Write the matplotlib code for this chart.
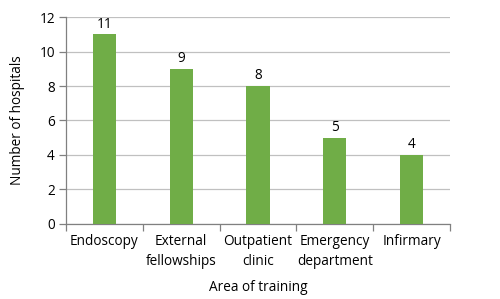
import matplotlib
matplotlib.use("Agg")
import matplotlib.pyplot as plt
import numpy as np

categories = ["Endoscopy", "External\nfellowships", "Outpatient\nclinic", "Emergency\ndepartment", "Infirmary"]
values = [11, 9, 8, 5, 4]
yticks = [0, 2, 4, 6, 8, 10, 12]

plt.rcParams['font.family'] = ['Open Sans', 'DejaVu Sans']
FS = 9.8

fig = plt.figure(figsize=(5.0, 2.99), dpi=100)
ax = fig.add_axes([0.132, 0.251, 0.768, 0.692])

x = np.arange(len(categories))
bars = ax.bar(x, values, width=0.3, color="#70AD47", zorder=3)
for xi, v in zip(x, values):
    ax.text(xi, v + 0.15, str(v), ha="center", va="bottom", fontsize=FS, color="black")

ax.set_xlim(-0.5, len(categories) - 0.5)
ax.set_ylim(0, 12)
ax.set_yticks(yticks)
ax.set_yticklabels([str(t) for t in yticks], fontsize=FS)
ax.grid(axis="y", color="#C0C0C0", linewidth=0.9, zorder=0)

ax.set_xticks(x)
ax.set_xticklabels(categories, fontsize=FS, linespacing=1.45)
ax.set_xticks(np.arange(-0.5, len(categories)), minor=True)
ax.tick_params(axis="x", which="major", length=0, pad=7)
ax.tick_params(axis="x", which="minor", length=5, color="#808080", width=0.9)
ax.tick_params(axis="y", length=5, color="#808080", width=0.9, pad=3)

for s in ["top", "right"]:
    ax.spines[s].set_visible(False)
for s in ["left", "bottom"]:
    ax.spines[s].set_color("#808080")
    ax.spines[s].set_linewidth(0.9)

ax.set_ylabel("Number of hospitals", fontsize=FS, labelpad=10)
ax.set_xlabel("Area of training", fontsize=FS, labelpad=8)

fig.savefig("out.png", dpi=100)
